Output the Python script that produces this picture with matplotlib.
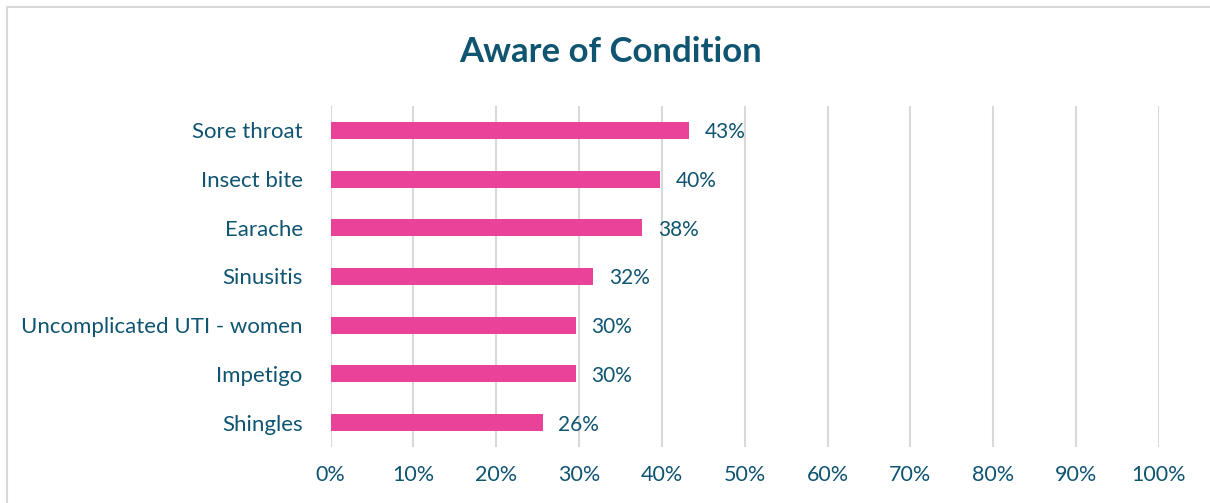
import matplotlib.pyplot as plt
from matplotlib.patches import Rectangle
import matplotlib.ticker as ticker

conditions = ['Sore throat', 'Insect bite', 'Earache', 'Sinusitis',
              'Uncomplicated UTI - women', 'Impetigo', 'Shingles']
aware = [0.433, 0.398, 0.376, 0.317, 0.296, 0.296, 0.256]
x_ticks = [0, 0.1, 0.2, 0.3, 0.4, 0.5, 0.6, 0.7, 0.8, 0.9, 1.0]

text_col = '#0F5470'
bar_col = '#E84299'
grid_col = '#D9D9D9'

plt.rcParams['font.family'] = ['Lato', 'DejaVu Sans']

fig = plt.figure(figsize=(12.1, 5.03), dpi=100)
W, H = 1210, 503
# axes placed in pixel terms
left, right, top, bottom = 330.5, 1159, 106, 447
ax = fig.add_axes([left / W, 1 - bottom / H, (right - left) / W, (bottom - top) / H])

# chart border
fig.patches.append(Rectangle((7 / W, -0.1), 1.2, 1 - 7 / H + 0.1, transform=fig.transFigure,
                             fill=False, edgecolor='#D9D9D9', linewidth=1.5))

ypos = list(range(len(conditions)))
ax.barh(ypos, aware, height=0.35, color=bar_col, zorder=3)
for y, v in zip(ypos, aware):
    ax.text(v + 0.019, y + 0.04, '{:.0%}'.format(v), va='center', ha='left',
            fontsize=15, color=text_col)

ax.set_ylim(len(conditions) - 0.5, -0.5)
ax.set_xlim(0, 1.0)
ax.set_yticks(ypos)
ax.set_yticklabels(conditions)
ax.set_xticks(x_ticks)
ax.xaxis.set_major_formatter(ticker.PercentFormatter(1.0, decimals=0))
ax.tick_params(axis='both', length=0, labelcolor=text_col)
ax.tick_params(axis='x', pad=13, labelsize=15.5)
ax.tick_params(axis='y', pad=20, labelsize=16)
ax.grid(axis='x', color=grid_col, linewidth=1.5, zorder=0)
for s in ax.spines.values():
    s.set_visible(False)

fig.text(0.505, 1 - 52 / H, 'Aware of Condition', ha='center', va='center',
         fontsize=25, fontweight='bold', color=text_col)

plt.savefig('out.png', dpi=100)
